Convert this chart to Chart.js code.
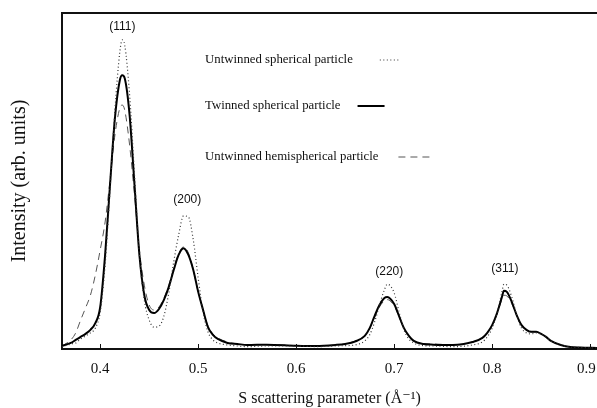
<!DOCTYPE html>
<html>
<head>
<meta charset="utf-8">
<title>Scattering intensity</title>
<script src="https://cdn.jsdelivr.net/npm/chart.js"></script>
<style>
  html, body { margin: 0; padding: 0; background: #fff; }
  #wrap { width: 597px; height: 408px; position: relative; }
</style>
</head>
<body>
<div id="wrap"><canvas id="chart"></canvas></div>
<script>
// S scattering parameter (1/Å)
const S = [0.361,0.370,0.375,0.380,0.385,0.390,0.395,0.400,0.405,0.410,
  0.415,0.420,0.4225,0.425,0.430,0.435,0.440,0.445,0.450,0.455,
  0.460,0.465,0.470,0.475,0.480,0.485,0.490,0.495,0.500,0.505,
  0.510,0.515,0.520,0.530,0.540,0.550,0.570,0.600,0.620,0.640,
  0.650,0.660,0.670,0.675,0.680,0.685,0.690,0.693,0.700,0.705,
  0.710,0.715,0.720,0.730,0.740,0.760,0.780,0.790,0.795,0.800,
  0.805,0.810,0.812,0.815,0.820,0.825,0.830,0.835,0.840,0.845,
  0.850,0.855,0.860,0.870,0.880,0.890,0.907];

// intensity, arbitrary units
const untwinnedSpherical = [0.6,1.5,1.8,3.0,3.9,4.8,6.2,11,25,47.3,
  71,88.4,92,90.5,75.6,51.8,28,14.6,8.6,6.5,
  6.8,9.8,16.7,25.9,33.9,39.6,39.3,32.4,21.1,11,
  5.1,2.7,1.8,1.2,0.9,0.7,0.9,0.9,0.7,0.9,
  1.0,1.2,2.4,4.2,8.0,13.1,17.6,19.3,16.7,11,
  5.7,3.0,1.8,1.0,0.9,0.7,1.2,2.1,3.6,6.2,
  10.7,17,19.3,19,15.5,10.1,6.2,4.8,4.5,4.8,
  4.5,3.6,2.4,1.2,0.6,0.45,0.3];

const twinnedSpherical = [0.9,1.8,2.7,3.6,4.5,5.7,7.7,12.5,28,48.8,
  68.7,80,81.5,80.6,69.6,48.8,28,16,11.6,10.7,
  11.9,14.6,18.5,23.5,28,30,28,23.5,17,11.6,
  6.5,4.2,3.0,1.8,1.5,1.2,1.3,1.0,0.9,1.2,
  1.5,2.2,3.9,6.2,9.8,13.1,15.2,15.5,13.4,9.8,
  6.2,3.9,2.4,1.5,1.3,1.2,2.1,3.3,4.8,7.1,
  10.7,15.5,17.3,17,14,10.1,7.1,5.7,5.1,5.1,
  4.5,3.6,2.4,1.2,0.6,0.45,0.3];

const untwinnedHemispherical = [0.9,2.7,4.8,8.6,12.2,16,22,29.5,37.8,50.3,
  63.7,71.7,72.6,71.1,60.7,45.8,29.5,19,13.1,11.6,
  12.5,15.2,19,24.1,28.3,30.4,28.6,23.5,17,11.6,
  6.8,4.5,3.3,2.1,1.5,1.2,1.3,1.0,0.9,1.2,
  1.5,2.4,3.9,6.0,9.4,12.5,14.4,14.7,12.8,9.5,
  6.0,3.9,2.4,1.5,1.5,1.2,2.1,3.3,4.8,7.1,
  10.4,14.8,16.0,15.8,13.5,10.0,7.1,5.7,5.1,5.1,
  4.5,3.6,2.4,1.2,0.6,0.45,0.3];

const xTicks = [0.4, 0.5, 0.6, 0.7, 0.8, 0.9];

// reflection labels: text, s, intensity
const peakNames = ['(111)', '(200)', '(220)', '(311)'];
const peakS = [0.4225, 0.4888, 0.695, 0.813];
const peakV = [95.8, 44.3, 22.9, 23.8];

const seriesLabels = ['Untwinned spherical particle', 'Twinned spherical particle', 'Untwinned hemispherical particle'];

const serif = "'Liberation Serif', 'DejaVu Serif', serif";
const sans = "'Liberation Sans', Arial, sans-serif";

function pts(ys) {
  return S.map((s, i) => ({ x: s, y: ys[i] }));
}

// top frame line, inward ticks, peak names and the legend
const decorations = {
  id: 'decorations',
  afterDraw(chart) {
    const { ctx, chartArea } = chart;
    const x = chart.scales.x, y = chart.scales.y;
    ctx.save();
    ctx.strokeStyle = '#111';
    ctx.lineWidth = 2;
    ctx.beginPath();
    ctx.moveTo(chartArea.left - 1, chartArea.top);
    ctx.lineTo(chartArea.right, chartArea.top);
    ctx.stroke();

    ctx.lineWidth = 1;
    xTicks.forEach(t => {
      const px = Math.round(x.getPixelForValue(t)) + 0.5;
      ctx.beginPath();
      ctx.moveTo(px, chartArea.bottom);
      ctx.lineTo(px, chartArea.bottom - 5);
      ctx.stroke();
    });

    ctx.fillStyle = '#111';
    ctx.font = '12px ' + sans;
    ctx.textAlign = 'center';
    ctx.textBaseline = 'middle';
    peakNames.forEach((n, i) => {
      ctx.fillText(n, x.getPixelForValue(peakS[i]), y.getPixelForValue(peakV[i]));
    });

    // legend: text then line sample
    const rows = [60, 106, 157];
    const gaps = [27, 17, 20];
    const lens = [20, 27, 35];
    ctx.font = '12.8px ' + serif;
    ctx.textAlign = 'left';
    chart.data.datasets.forEach((ds, i) => {
      const tx = 205;
      ctx.fillStyle = '#111';
      ctx.fillText(ds.label, tx, rows[i]);
      const w = ctx.measureText(ds.label).width;
      const sx = tx + w + gaps[i];
      ctx.strokeStyle = ds.borderColor;
      ctx.lineWidth = ds.borderWidth;
      ctx.setLineDash(ds.borderDash || []);
      ctx.beginPath();
      ctx.moveTo(sx, rows[i]);
      ctx.lineTo(sx + lens[i], rows[i]);
      ctx.stroke();
    });
    ctx.restore();
  }
};

new Chart(document.getElementById('chart'), {
  type: 'line',
  data: {
    datasets: [
      {
        label: seriesLabels[0],
        data: pts(untwinnedSpherical),
        borderColor: '#333',
        borderWidth: 1.2,
        borderDash: [1, 2.5]
      },
      {
        label: seriesLabels[1],
        data: pts(twinnedSpherical),
        borderColor: '#000',
        borderWidth: 2
      },
      {
        label: seriesLabels[2],
        data: pts(untwinnedHemispherical),
        borderColor: '#555',
        borderWidth: 1,
        borderDash: [7, 5]
      }
    ]
  },
  options: {
    responsive: true,
    maintainAspectRatio: false,
    animation: false,
    layout: { padding: { top: 13, right: 0, left: 0, bottom: 0 } },
    elements: {
      point: { radius: 0 },
      line: { cubicInterpolationMode: 'monotone', fill: false }
    },
    plugins: {
      legend: { display: false },
      tooltip: { enabled: false }
    },
    scales: {
      x: {
        type: 'linear',
        min: 0.361,
        max: 0.907,
        afterBuildTicks: scale => { scale.ticks = xTicks.map(v => ({ value: v })); },
        afterFit: scale => {
          scale.height = 59;
          scale.paddingLeft = 0;
          scale.paddingRight = 0;
        },
        grid: { display: false },
        border: { display: true, color: '#111', width: 2 },
        ticks: {
          color: '#111',
          padding: 3,
          maxRotation: 0,
          font: { family: serif, size: 15 },
          // last label sits at the canvas edge, nudge it left
          callback: v => v === 0.9 ? v.toFixed(1) + '\u00a0\u00a0' : v.toFixed(1)
        },
        title: {
          display: true,
          text: 'S scattering parameter (Å⁻¹)',
          color: '#111',
          padding: 0,
          font: { family: serif, size: 16 }
        }
      },
      y: {
        min: 0,
        max: 100,
        afterFit: scale => { scale.width = 62; },
        grid: { display: false },
        border: { display: true, color: '#111', width: 2 },
        ticks: { display: false },
        title: {
          display: true,
          text: 'Intensity (arb. units)',
          color: '#111',
          padding: { top: 8 },
          font: { family: serif, size: 20 }
        }
      }
    }
  },
  plugins: [decorations]
});
</script>
</body>
</html>
